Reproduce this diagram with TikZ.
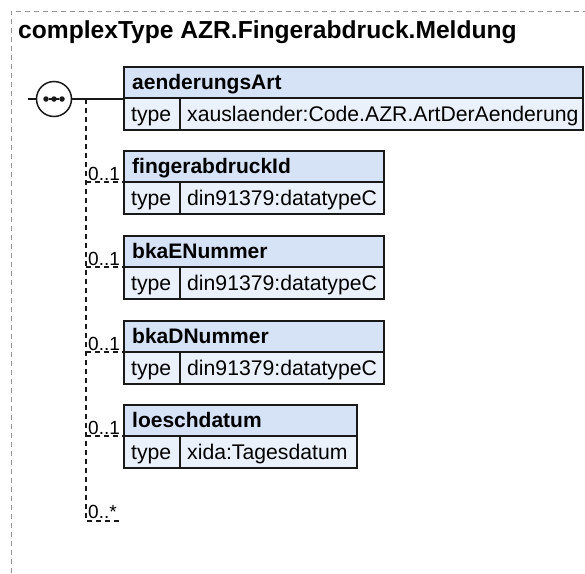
\documentclass[tikz,border=0pt]{standalone}
\usepackage{fontspec}
\setmainfont{Liberation Sans}
\definecolor{hdr}{RGB}{214,227,247}
\definecolor{rowc}{RGB}{234,241,251}
\definecolor{framec}{RGB}{150,150,150}
\definecolor{ink}{RGB}{25,25,25}
\newcommand\elbox[5]{%
  \node[hbox, minimum width={#3-124}] (#1h) at (124,#2) {};
  \node[rbox, minimum width={#3-124}] (#1r) at (124,{#2+31}) {};
  \draw[boxline] ([xshift=56pt]#1r.north west) -- ([xshift=56pt]#1r.south west);
  \node[hd] (#1t) at (132,{#2+22.5}) {#4};
  \node[rw] (#1k) at (131,{#2+54}) {type};
  \node[rw] (#1v) at (187,{#2+54}) {#5};
}
\begin{document}
\begin{tikzpicture}[x=1pt,y=-1pt,
  boxline/.style={draw=ink, line width=1.4pt},
  hbox/.style={boxline, fill=hdr, rectangle, inner sep=0pt, outer sep=0pt, anchor=north west, minimum height=31pt},
  rbox/.style={boxline, fill=rowc, rectangle, inner sep=0pt, outer sep=0pt, anchor=north west, minimum height=32pt},
  hd/.style={anchor=base west, inner sep=0pt, font=\fontsize{21}{24}\selectfont\bfseries},
  rw/.style={anchor=base west, inner sep=0pt, font=\fontsize{21.2}{24}\selectfont},
  mult/.style={anchor=base west, inner sep=0pt, font=\fontsize{19}{22}\selectfont},
  conn/.style={draw=ink, line width=1.4pt, dash pattern=on 5pt off 4pt},
  solidconn/.style={draw=ink, line width=1.4pt},
  dot/.style={circle, fill=ink, inner sep=0pt, minimum size=5.5pt}
]
\useasboundingbox (0,0) rectangle (585,573);
% outer dashed frame
\draw[framec, line width=1pt, dash pattern=on 5pt off 4pt] (11,600) -- (11,11) -- (600,11);
% title
\node[anchor=base west, inner sep=0pt, font=\fontsize{24.6}{28}\selectfont\bfseries] (title) at (18,38) {complexType AZR.Fingerabdruck.Meldung};
% sequence compositor
\coordinate (inleft) at (28,99);
\node[circle, draw=ink, line width=1.5pt, fill=white, minimum size=35pt, inner sep=0pt] (seq) at (54,99) {};
\node[dot] (d1) at (46,99) {};
\node[dot] (d2) at (54,99) {};
\node[dot] (d3) at (62,99) {};
\draw[solidconn] (d1) -- (d3);
\draw[solidconn] (inleft) -- (seq.west);
% elements
\elbox{a}{67}{583}{aenderungsArt}{xauslaender:Code.AZR.ArtDerAenderung}
\elbox{b}{151}{384}{fingerabdruckId}{din91379:datatypeC}
\elbox{c}{236}{384}{bkaENummer}{din91379:datatypeC}
\elbox{d}{321}{384}{bkaDNummer}{din91379:datatypeC}
\elbox{e}{405}{357}{loeschdatum}{xida:Tagesdatum}
% connectors
\draw[solidconn] (seq.east) -- (seq.east -| ah.west);
\coordinate (vtop) at (86,99);
\coordinate (vbot) at (86,521);
\coordinate (vend) at (121,521);
\draw[conn] (vtop) -- (vbot) -- (vend);
\draw[conn] (vtop |- bh.south) -- (bh.south west);
\draw[conn] (vtop |- ch.south) -- (ch.south west);
\draw[conn] (vtop |- dh.south) -- (dh.south west);
\draw[conn] (vtop |- eh.south) -- (eh.south west);
% multiplicities
\node[mult] (mb) at (88,180) {0..1};
\node[mult] (mc) at (88,265) {0..1};
\node[mult] (md) at (88,350) {0..1};
\node[mult] (me) at (88,434) {0..1};
\node[mult] (mz) at (88,518) {0..*};
\end{tikzpicture}
\end{document}
